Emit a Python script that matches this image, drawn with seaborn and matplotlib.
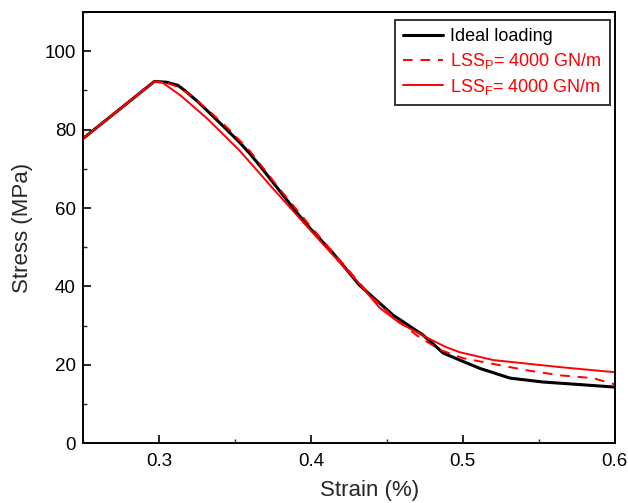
import matplotlib
matplotlib.use("Agg")
import matplotlib.pyplot as plt
import seaborn as sns
from matplotlib.ticker import MultipleLocator

# ---- data ----
ideal_x = [0.25, 0.297, 0.305, 0.3125, 0.317, 0.326, 0.333, 0.342, 0.353, 0.36, 0.366,
           0.3776, 0.391, 0.3995, 0.4145, 0.432, 0.454, 0.4737, 0.480, 0.487, 0.498,
           0.511, 0.531, 0.5526, 0.575, 0.6]
ideal_y = [77.7, 92.3, 92.1, 91.3, 90.0, 87.0, 84.4, 81.0, 76.8, 73.8, 71.0,
           65.3, 58.7, 54.8, 48.5, 40.3, 32.7, 27.6, 25.5, 23.0, 21.2,
           19.1, 16.6, 15.6, 15.0, 14.3]

lssp_x = [0.25, 0.297, 0.305, 0.313, 0.32, 0.333, 0.345, 0.36, 0.38, 0.40, 0.42,
          0.44, 0.455, 0.47, 0.485, 0.5, 0.52, 0.542, 0.564, 0.5855, 0.6]
lssp_y = [77.7, 92.3, 92.0, 90.8, 89.0, 84.8, 80.5, 74.5, 64.6, 55.2, 46.3,
          37.3, 32.0, 27.4, 23.8, 21.7, 20.2, 18.6, 17.3, 16.6, 15.0]

lssf_x = [0.25, 0.297, 0.302, 0.314, 0.3316, 0.353, 0.375, 0.397, 0.4145, 0.43,
          0.4454, 0.4586, 0.476, 0.489, 0.498, 0.52, 0.542, 0.564, 0.6]
lssf_y = [77.7, 92.3, 92.1, 88.8, 82.9, 74.7, 65.0, 55.5, 48.0, 41.5,
          34.5, 30.6, 27.0, 24.5, 23.2, 21.2, 20.3, 19.4, 18.1]

labels = ["Ideal loading", r"LSS$_\mathrm{P}$= 4000 GN/m", r"LSS$_\mathrm{F}$= 4000 GN/m"]
x_ticks = [0.3, 0.4, 0.5, 0.6]
y_ticks = [0, 20, 40, 60, 80, 100]

sns.set_style("ticks")
plt.rcParams['font.family'] = ['Liberation Sans', 'DejaVu Sans']
plt.rcParams['mathtext.fontset'] = 'custom'
plt.rcParams['mathtext.rm'] = 'Liberation Sans'
plt.rcParams['mathtext.it'] = 'Liberation Sans:italic'

fig = plt.figure(figsize=(6.28, 5.03), dpi=100)
ax = fig.add_axes([0.132, 0.119, 0.847, 0.857])

sns.lineplot(x=ideal_x, y=ideal_y, ax=ax, color="black", lw=2.2, label=labels[0],
             estimator=None, sort=False)
sns.lineplot(x=lssp_x, y=lssp_y, ax=ax, color="red", lw=1.4, linestyle=(0, (5, 4)),
             label=labels[1], estimator=None, sort=False)
sns.lineplot(x=lssf_x, y=lssf_y, ax=ax, color="red", lw=1.4, label=labels[2],
             estimator=None, sort=False)

ax.set_xlim(0.25, 0.6)
ax.set_ylim(0, 110)
ax.set_xticks(x_ticks)
ax.set_xticklabels([f"{v:.1f}" for v in x_ticks])
ax.set_yticks(y_ticks)
ax.xaxis.set_minor_locator(MultipleLocator(0.05))
ax.yaxis.set_minor_locator(MultipleLocator(10))
ax.tick_params(which="major", direction="in", length=6, width=1.2, labelsize=13.5,
               top=False, right=False, colors="black")
ax.tick_params(axis="x", which="major", pad=7)
ax.tick_params(axis="y", which="major", pad=5)
ax.tick_params(which="minor", direction="in", length=3, width=1.0, top=False, right=False)
for s in ax.spines.values():
    s.set_visible(True)
    s.set_linewidth(1.4)
    s.set_color("black")

ax.set_xlabel("Strain (%)", fontsize=16)
ax.set_ylabel("Stress (MPa)", fontsize=16)
ax.xaxis.set_label_coords(0.538, -0.086)
ax.yaxis.set_label_coords(-0.094, 0.5)

leg = ax.legend(loc="upper right", fontsize=13, frameon=True, fancybox=False,
                edgecolor="black", handlelength=2.2, handletextpad=0.4,
                borderpad=0.45, labelspacing=0.32, borderaxespad=0,
                bbox_to_anchor=(0.9906, 0.9814))
leg.get_frame().set_linewidth(1.4)
for t, c in zip(leg.get_texts(), ["black", "red", "red"]):
    t.set_color(c)

fig.savefig("out.png", dpi=100)
